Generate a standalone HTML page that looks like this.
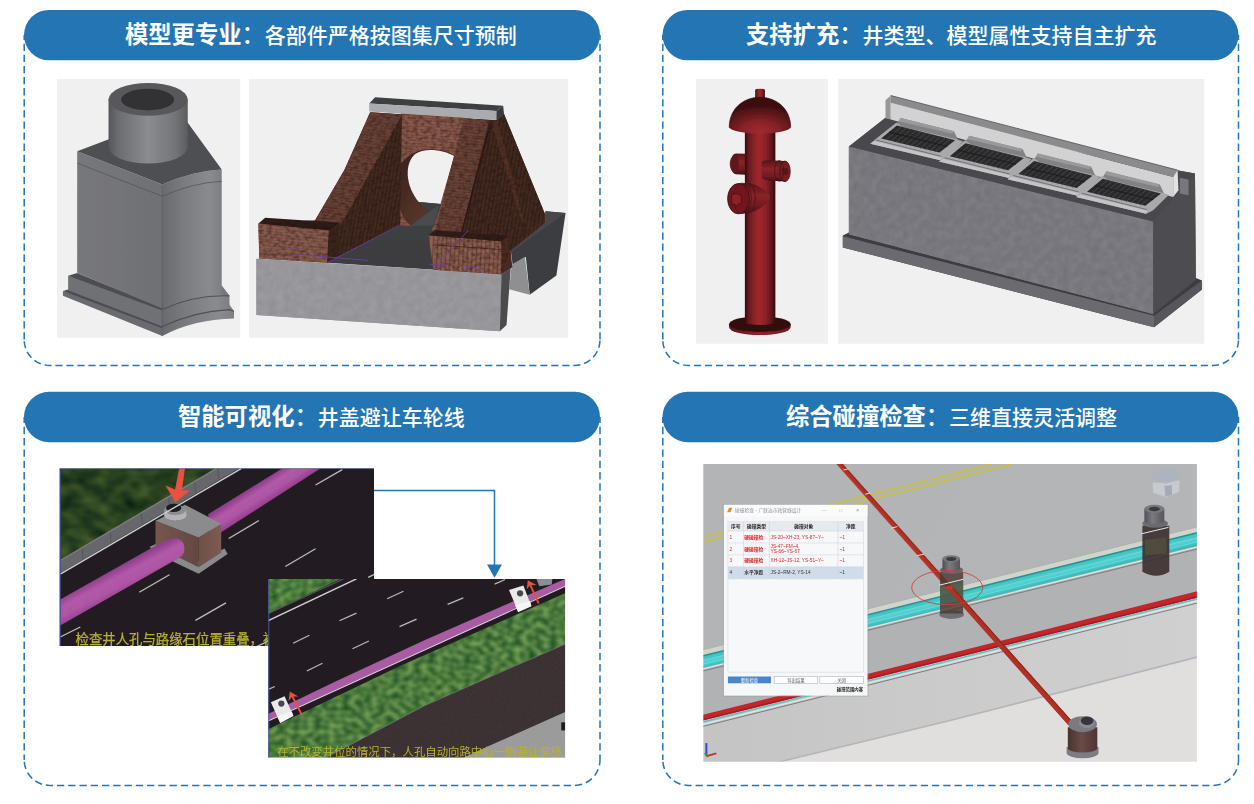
<!DOCTYPE html>
<html lang="zh-CN">
<head>
<meta charset="utf-8">
<title>模型更专业 · 支持扩充 · 智能可视化 · 综合碰撞检查</title>
<style>
html,body{margin:0;padding:0;background:#fff;}
body{width:1254px;height:804px;position:relative;overflow:hidden;font-family:"Liberation Sans","Noto Sans CJK SC",sans-serif;}
#gfx{position:absolute;left:0;top:0;width:1254px;height:804px;display:block;}
.hd{position:absolute;height:50px;line-height:50px;color:#fff;white-space:nowrap;font-size:21px;font-weight:500;text-align:left;}
.hd b{font-size:23.3px;font-weight:bold;}
.hd i{font-style:normal;font-size:23.3px;font-weight:500;}
</style>
</head>
<body>
<svg id="gfx" width="1254" height="804" viewBox="0 0 1254 804">
<defs>
<linearGradient id="m1c" x1="0" y1="0" x2="1" y2="0">
  <stop offset="0" stop-color="#55565a"/><stop offset="0.12" stop-color="#6b6c70"/><stop offset="0.5" stop-color="#8b8c90"/><stop offset="0.85" stop-color="#737478"/><stop offset="1" stop-color="#5a5b5f"/>
</linearGradient>
<linearGradient id="m1l" x1="0" y1="0" x2="1" y2="0">
  <stop offset="0" stop-color="#77787c"/><stop offset="1" stop-color="#6f7074"/>
</linearGradient>
<linearGradient id="m1r" x1="0" y1="0" x2="1" y2="0">
  <stop offset="0" stop-color="#696a6e"/><stop offset="0.35" stop-color="#7a7b7f"/><stop offset="0.8" stop-color="#8a8b8f"/><stop offset="1" stop-color="#7d7e82"/>
</linearGradient>
<filter id="soft" x="-5%" y="-5%" width="110%" height="110%"><feGaussianBlur stdDeviation="0.55"/></filter>
<filter id="soft2" x="-5%" y="-5%" width="110%" height="110%"><feGaussianBlur stdDeviation="0.75"/></filter>
<clipPath id="c1"><rect x="57" y="79" width="183.2" height="258.8"/></clipPath>
<clipPath id="c2"><rect x="249" y="79" width="319.2" height="258.8"/></clipPath>
<pattern id="brk" width="60" height="17" patternUnits="userSpaceOnUse" patternTransform="rotate(3)">
  <rect width="60" height="17" fill="#8a5a4c"/><rect y="13" width="60" height="4" fill="#774a3e"/><rect x="20" y="0" width="4" height="13" fill="#7d4f42"/>
</pattern>
<pattern id="brkL" width="60" height="17" patternUnits="userSpaceOnUse" patternTransform="rotate(5)">
  <rect width="60" height="17" fill="#8a5d4f"/><rect y="13" width="60" height="4" fill="#774c40"/><rect x="30" y="0" width="4" height="13" fill="#7e5245"/>
</pattern>
<pattern id="brkV" width="26" height="60" patternUnits="userSpaceOnUse" patternTransform="rotate(3)">
  <rect width="26" height="60" fill="#87594b"/><rect x="0" width="6" height="60" fill="#6e4437"/><rect x="13" width="5" height="60" fill="#966757"/>
</pattern>
<pattern id="brkD" width="22" height="60" patternUnits="userSpaceOnUse" patternTransform="rotate(10)">
  <rect width="22" height="60" fill="#40281f"/><rect x="0" width="6" height="60" fill="#372018"/><rect x="12" width="4" height="60" fill="#472d24"/>
</pattern>
<pattern id="brkS" width="60" height="17" patternUnits="userSpaceOnUse" patternTransform="rotate(8)">
  <rect width="60" height="17" fill="#6b4337"/><rect y="13" width="60" height="4" fill="#59362c"/><rect x="10" y="0" width="4" height="13" fill="#5f3a30"/>
</pattern>
<pattern id="brkA" width="60" height="17" patternUnits="userSpaceOnUse" patternTransform="rotate(6)">
  <rect width="60" height="17" fill="#6c4438"/><rect y="13" width="60" height="4" fill="#5a372d"/><rect x="40" y="0" width="4" height="13" fill="#613c31"/>
</pattern>
<filter id="brn" x="0" y="0" width="100%" height="100%" color-interpolation-filters="sRGB">
  <feTurbulence type="fractalNoise" baseFrequency="0.22 0.3" numOctaves="2" seed="5"/>
  <feColorMatrix type="matrix" values="0 0 0 0 0.13  0 0 0 0 0.07  0 0 0 0 0.05  1.0 0 0 0 -0.36"/>
</filter>
<filter id="cnc" x="0" y="0" width="100%" height="100%" color-interpolation-filters="sRGB">
  <feTurbulence type="fractalNoise" baseFrequency="0.13" numOctaves="2" seed="9"/>
  <feColorMatrix type="matrix" values="0.075 0 0 0 0.436  0.075 0 0 0 0.433  0.075 0 0 0 0.46  0 0 0 0 1"/>
</filter>
<filter id="cnc2" x="0" y="0" width="100%" height="100%" color-interpolation-filters="sRGB">
  <feTurbulence type="fractalNoise" baseFrequency="0.13" numOctaves="2" seed="4"/>
  <feColorMatrix type="matrix" values="0.07 0 0 0 0.553  0.07 0 0 0 0.553  0.07 0 0 0 0.573  0 0 0 0 1"/>
</filter>
<clipPath id="k4"><path d="M848.9 146.4 L1153.2 221.5 L1153.2 313.9 L848.9 234.2 Z"/></clipPath>
<clipPath id="k2c"><path d="M256.4 258.8 L501.5 274.2 L499.8 331.3 L256.4 315 Z"/></clipPath>
<clipPath id="k2"><path d="M370.1 112.3 L496.4 120 L504 113.9 L545.5 215.2 L510.7 250.4 L501.5 274.2 L433.5 269.7 L435.2 230.3 L463.7 118.3 L402 114.4 L400.3 225.2 L327.2 262.7 L259.3 258.5 L258.4 223.5 L315.2 220.2 L344.4 170 Z"/></clipPath>
<clipPath id="k2b"><path d="M401 112.7 L465 117 L436.4 231 L399.4 226 Z"/></clipPath>
<linearGradient id="h2p" x1="0" y1="0" x2="1" y2="1">
  <stop offset="0" stop-color="#35211a"/><stop offset="0.6" stop-color="#553429"/><stop offset="1" stop-color="#5e3a2e"/>
</linearGradient>
<linearGradient id="h2c" x1="0" y1="0" x2="1" y2="0">
  <stop offset="0" stop-color="#9a9a9f"/><stop offset="0.5" stop-color="#96969b"/><stop offset="1" stop-color="#8f8f94"/>
</linearGradient>
<clipPath id="c3"><rect x="696" y="79" width="132" height="264.8"/></clipPath>
<linearGradient id="hy1" x1="0" y1="0" x2="1" y2="0">
  <stop offset="0" stop-color="#380b0e"/><stop offset="0.14" stop-color="#6c1b1f"/><stop offset="0.45" stop-color="#a0282e"/><stop offset="0.7" stop-color="#872126"/><stop offset="0.9" stop-color="#541418"/><stop offset="1" stop-color="#33090c"/>
</linearGradient>
<radialGradient id="hy2" cx="0.5" cy="0.95" r="0.75" fx="0.5" fy="0.95">
  <stop offset="0" stop-color="#a4292f"/><stop offset="0.4" stop-color="#862227"/><stop offset="0.75" stop-color="#5a1619"/><stop offset="1" stop-color="#3a0d10"/>
</radialGradient>
<linearGradient id="hy3" x1="0" y1="0" x2="0" y2="1">
  <stop offset="0" stop-color="#541518"/><stop offset="0.4" stop-color="#8a2328"/><stop offset="0.75" stop-color="#6e1c20"/><stop offset="1" stop-color="#3f0f12"/>
</linearGradient>
<linearGradient id="hy4" x1="0" y1="0" x2="1" y2="0">
  <stop offset="0" stop-color="#5a1619"/><stop offset="0.5" stop-color="#8e2429"/><stop offset="1" stop-color="#6a1a1e"/>
</linearGradient>
<clipPath id="c4"><rect x="838" y="79" width="366.3" height="264.7"/></clipPath>
<linearGradient id="d4f" x1="0" y1="0" x2="1" y2="0.3">
  <stop offset="0" stop-color="#77767d"/><stop offset="0.5" stop-color="#7c7b82"/><stop offset="1" stop-color="#78777e"/>
</linearGradient>
<g id="grate">
  <path d="M85 -75 L112 -118 L418 -42 L442 8 L425 12 Z" fill="#828284"/>
  <path d="M85 -75 L112 -118 L418 -42 L408 -28 L100 -100 Z" fill="#9a9a9c"/>
  <path d="M-62 30 L-28 0 L88 -92 L120 -70 L438 6 L470 16 L380 106 L340 125 Z" fill="#a9a9ab"/>
  <path d="M-62 30 L340 125 L348 108 L-40 14 Z" fill="#c4c4c6"/>
  <path d="M-30 8 L345 102" stroke="#6a6a6c" stroke-width="5" fill="none"/>
  <path d="M0 0 L90 -75 L425 10 L335 80 Z" fill="#2b2a2c"/>
  <path d="M28 7 L118 -68 M56 14 L146 -61 M84 21 L174 -54 M112 28 L202 -47 M140 35 L230 -40 M168 42 L258 -33 M196 49 L286 -26 M224 56 L314 -19 M252 63 L342 -12 M280 70 L370 -5 M308 77 L398 2" stroke="#4a494b" stroke-width="5" fill="none"/>
  <path d="M45 -37 L380 45" stroke="#1e1d1f" stroke-width="6" fill="none"/>
</g>
<clipPath id="c5"><rect x="59.8" y="468.6" width="314.2" height="177.4"/></clipPath>
<clipPath id="c6"><rect x="268.3" y="578.9" width="296.8" height="178.7"/></clipPath>
<filter id="grassA" x="0" y="0" width="100%" height="100%" color-interpolation-filters="sRGB">
  <feTurbulence type="fractalNoise" baseFrequency="0.05 0.07" numOctaves="2" seed="7"/>
  <feColorMatrix type="matrix" values="0.34 0 0 0 -0.005  0.34 0 0 0 0.09  0.14 0 0 0 0.055  0 0 0 0 1"/>
</filter>
<filter id="grassB" x="0" y="0" width="100%" height="100%" color-interpolation-filters="sRGB">
  <feTurbulence type="fractalNoise" baseFrequency="0.14 0.17" numOctaves="1" seed="3"/>
  <feColorMatrix type="matrix" values="0.5 0 0 0 0.05  0.46 0 0 0 0.25  0.3 0 0 0 0.09  0 0 0 0 1"/>
</filter>
<filter id="grain" x="0" y="0" width="100%" height="100%" color-interpolation-filters="sRGB">
  <feTurbulence type="fractalNoise" baseFrequency="0.5" numOctaves="2" seed="11"/>
  <feColorMatrix type="matrix" values="0 0 0 0 0.5  0 0 0 0 0.5  0 0 0 0 0.5  0.5 0 0 0 -0.13"/>
</filter>
<linearGradient id="pp5" gradientUnits="userSpaceOnUse" x1="400" y1="780" x2="500" y2="970">
  <stop offset="0" stop-color="#8f3f8c"/><stop offset="0.3" stop-color="#b259a8"/><stop offset="0.6" stop-color="#ae55a4"/><stop offset="1" stop-color="#8a3a88"/>
</linearGradient>
<linearGradient id="pp5b" gradientUnits="userSpaceOnUse" x1="1500" y1="130" x2="1590" y2="270">
  <stop offset="0" stop-color="#8f3f8c"/><stop offset="0.3" stop-color="#b259a8"/><stop offset="0.6" stop-color="#ae55a4"/><stop offset="1" stop-color="#8a3a88"/>
</linearGradient>
<linearGradient id="bx5l" x1="0" y1="0" x2="1" y2="0">
  <stop offset="0" stop-color="#75564d"/><stop offset="1" stop-color="#644840"/>
</linearGradient>
<linearGradient id="bx5r" x1="0" y1="0" x2="1" y2="0">
  <stop offset="0" stop-color="#6e5047"/><stop offset="1" stop-color="#7d5c52"/>
</linearGradient>
<clipPath id="g5p"><path d="M59 468 L216.4 468.6 L59 561.2 Z"/></clipPath>
<clipPath id="g6a"><path d="M267.0 577.6 L343.4 577.6 L267.0 614.2 Z"/></clipPath>
<clipPath id="g6b"><path d="M267.0 729.7 L402.1 665.0 L566.7 592.5 L566.7 643.4 L482.9 680.0 L425.0 705.5 L326.4 757.5 L326.4 759.2 L267.0 759.2 Z"/></clipPath>
<clipPath id="g6c"><path d="M326.4 757.9 L425.0 705.5 L482.9 680.0 L566.7 643.4 L566.7 711.2 L482.9 748.6 L463.5 757.9 Z"/></clipPath>
<clipPath id="c7"><rect x="703.3" y="464" width="493.6" height="297.8"/></clipPath>
<linearGradient id="s7a" x1="0" y1="0" x2="1" y2="0.4">
  <stop offset="0" stop-color="#b3b4b5"/><stop offset="1" stop-color="#b4b5b6"/>
</linearGradient>
<linearGradient id="s7b" x1="0" y1="0" x2="1" y2="0">
  <stop offset="0" stop-color="#c4c4c5"/><stop offset="0.5" stop-color="#cbcbcc"/><stop offset="1" stop-color="#d0d0d1"/>
</linearGradient>
<linearGradient id="cy7" gradientUnits="userSpaceOnUse" x1="1250" y1="670" x2="1268" y2="742">
  <stop offset="0" stop-color="#2f9fa0"/><stop offset="0.15" stop-color="#3cc4c4"/><stop offset="0.5" stop-color="#56d0d0"/><stop offset="0.8" stop-color="#3ec0c2"/><stop offset="1" stop-color="#35a8aa"/>
</linearGradient>
<linearGradient id="mh7" x1="0" y1="0" x2="1" y2="0">
  <stop offset="0" stop-color="#4e4e54"/><stop offset="0.4" stop-color="#7a7a80"/><stop offset="1" stop-color="#55555b"/>
</linearGradient>
<linearGradient id="mb7" x1="0" y1="0" x2="1" y2="0">
  <stop offset="0" stop-color="#4a3230"/><stop offset="0.45" stop-color="#6a4a46"/><stop offset="1" stop-color="#4e3533"/>
</linearGradient>

</defs>
<!-- ===== panel frames ===== -->
<g id="frames" fill="none" stroke="#2375b3" stroke-width="1.5">
  <path d="M24.2 35.0 V339.9 M600.0 35.0 V339.9" stroke-dasharray="7.30 3.80" stroke-dashoffset="2.40"/>
  <path d="M24.2 339.9 A25.5 25.5 0 0 0 49.7 365.4 H574.5 A25.5 25.5 0 0 0 600.0 339.9" stroke-dasharray="7.20 3.82" stroke-dashoffset="9.64"/>
  <path d="M662.8 35.0 V339.9 M1238.5 35.0 V339.9" stroke-dasharray="7.30 3.80" stroke-dashoffset="2.40"/>
  <path d="M662.8 339.9 A25.5 25.5 0 0 0 688.3 365.4 H1213.0 A25.5 25.5 0 0 0 1238.5 339.9" stroke-dasharray="7.20 3.82" stroke-dashoffset="9.64"/>
  <path d="M24.2 417.0 V759.9 M600.0 417.0 V759.9" stroke-dasharray="7.40 3.90" stroke-dashoffset="1.50"/>
  <path d="M24.2 759.9 A25.5 25.5 0 0 0 49.7 785.4 H574.5 A25.5 25.5 0 0 0 600.0 759.9" stroke-dasharray="7.30 3.96" stroke-dashoffset="9.24"/>
  <path d="M662.8 417.0 V759.9 M1238.5 417.0 V759.9" stroke-dasharray="7.40 3.90" stroke-dashoffset="1.50"/>
  <path d="M662.8 759.9 A25.5 25.5 0 0 0 688.3 785.4 H1213.0 A25.5 25.5 0 0 0 1238.5 759.9" stroke-dasharray="7.30 3.96" stroke-dashoffset="9.24"/>
</g>
<g id="pills" fill="#2375b3">
  <rect x="24" y="9.9" width="576" height="50.4" rx="25.2"/>
  <rect x="662.5" y="9.9" width="576" height="50.4" rx="25.2"/>
  <rect x="24" y="391.8" width="576" height="50.4" rx="25.2"/>
  <rect x="662.5" y="391.8" width="576" height="50.4" rx="25.2"/>
</g>
<!-- ===== image 1 : manhole chamber ===== -->
<g id="img1" clip-path="url(#c1)"><g filter="url(#soft)">
  <rect x="47" y="69" width="203.2" height="278.8" fill="#f0f0f0"/>
  <g transform="translate(50,75) scale(0.16168)">
    <!-- lower slab -->
    <path d="M80 1336 L695 1500 L695 1614 L80 1366 Z" fill="#6a6b6f"/>
    <path d="M695 1500 L1110 1420 L1138 1461 L1138 1506 Q885 1512 695 1614 Z" fill="url(#m1r)"/>
    <path d="M80 1336 L112 1326 L695 1552 L695 1566 Z" fill="#4c4d50"/>
    <!-- upper plinth -->
    <path d="M112 1241 L695 1400 L695 1556 L112 1331 Z" fill="#707175"/>
    <path d="M695 1400 L1062 1300 L1110 1366 L1110 1451 Q890 1462 695 1556 Z" fill="url(#m1r)"/>
    <path d="M112 1241 L168 1224 L695 1440 L695 1456 Z" fill="#4d4e51"/>
    <path d="M695 1556 Q890 1462 1110 1451 L1138 1461" fill="none" stroke="#4f5053" stroke-width="7"/>
    <!-- body -->
    <path d="M168 472 L695 678 L695 1444 L168 1224 Z" fill="url(#m1l)"/>
    <path d="M695 678 Q880 595 1062 585 L1062 1356 Q890 1360 695 1450 Z" fill="url(#m1r)"/>
    <path d="M1062 1306 L1110 1366 L1062 1358 Z" fill="#77787c"/>
    <path d="M695 1450 Q897 1358 1110 1366" fill="none" stroke="#505154" stroke-width="7"/>
    <path d="M168 545 L695 750 Q880 667 1062 657" fill="none" stroke="#55565a" stroke-width="5"/>
    <path d="M695 678 L695 1614" fill="none" stroke="#55565a" stroke-width="5"/>
    <!-- top face -->
    <path d="M168 472 L805 230 L1062 585 Q880 595 695 678 Z" fill="#4e4f52"/>
    <!-- riser -->
    <path d="M362 151 L362 446 A245 101 0 0 0 852 446 L852 151 Z" fill="url(#m1c)"/>
    <ellipse cx="607" cy="151" rx="245" ry="101" fill="#58595c"/>
    <ellipse cx="604" cy="152" rx="164" ry="67" fill="#323335"/>
  </g>
</g></g>

<!-- ===== image 2 : brick culvert headwall ===== -->
<g id="img2" clip-path="url(#c2)"><g filter="url(#soft)">
  <rect x="239" y="69" width="339.2" height="278.8" fill="#f0f0f0"/>
  <g transform="translate(245,75) scale(0.167853)">
    <!-- right side base -->
    <g transform="translate(1459.6,685.1) scale(0.8154)">
      <path d="M150 425 L405 240 L405 155 L552 168 L485 625 L290 765 L262 490 L165 545 Z" fill="#3b3d3f"/>
      <path d="M150 425 L405 240 L405 155 L552 168 L520 190 L150 458 Z" fill="#454749"/>
      <path d="M158 548 L255 488 L290 765 L140 725 Z" fill="#8f8f91"/>
    </g>
    <!-- floor -->
    <path d="M490 1118 L920 895 L960 840 L1300 840 L1130 1160 Z" fill="#3c3e40"/>
    <!-- base front -->
    <path d="M68 1095 L1528 1187 L1518 1527 L68 1430 Z" fill="url(#h2c)"/>
  </g>
  <rect x="252" y="255" width="254" height="80" filter="url(#cnc2)" clip-path="url(#k2c)"/>
  <g transform="translate(245,75) scale(0.167853)">
    <path d="M1528 1187 L1583 1150 L1558 1490 L1518 1527 Z" fill="#494b4d"/>
    <!-- backing to avoid seams -->
    <path d="M745 222 L1498 268 L1543 232 L1790 835 L1583 1045 L1528 1187 L1123 1160 L1133 925 L1303 258 L935 235 L925 895 L490 1118 L85 1093 L80 885 L418 865 L592 566 Z" fill="#4a2e25"/>
    <!-- back wall -->
    <path d="M930 225 L1310 250 L1140 930 L920 900 Z" fill="url(#brk)"/>
  </g>
  <rect x="395" y="108" width="75" height="130" filter="url(#brn)" clip-path="url(#k2b)"/>
  <g transform="translate(245,75) scale(0.167853)">
    <!-- hole region drawn in its own crop space -->
    <g transform="translate(744.7,327.7) scale(0.8151)">
      <path d="M215 262 C260 190 340 140 440 140 C520 140 580 160 625 185 L515 545 L430 600 L300 700 C250 660 215 600 215 520 Z" fill="url(#h2p)"/>
      <path d="M330 175 C360 155 400 146 440 146 C510 146 570 165 615 190 L515 540 L357 527 C310 470 280 400 276 330 C272 260 295 205 330 175 Z" fill="#f0f0f0"/>
      <path d="M357 527 L520 540 L470 690 L430 770 L430 810 L0 810 L0 790 L210 700 L300 700 L430 600 Z" fill="#3c3f41"/>
      <path d="M300 700 L430 600 L505 548 L470 690 L440 700 Z" fill="#484b4d"/>
    </g>
    <!-- left wing -->
    <path d="M935 235 L925 895 L490 1118 L500 925 L578 880 Z" fill="url(#brkD)"/>
    <path d="M749 222 L935 235 L578 880 L418 865 L592 566 Z" fill="url(#brkS)"/>
    <!-- left low wall -->
    <path d="M80 885 L500 925 L490 1118 L85 1093 Z" fill="url(#brkL)"/>
    <path d="M80 885 L120 850 L560 880 L500 925 Z" fill="#2c1b16"/>
    <path d="M500 925 L560 880 L560 1085 L490 1118 Z" fill="#3a241d"/>
    <!-- right wing -->
    <path d="M1303 258 L1455 268 L1291 935 L1133 925 Z" fill="url(#brkA)"/>
    <path d="M1461 270 L1498 268 L1543 232 L1790 835 L1790 880 L1583 1045 L1573 957 L1291 935 L1455 268 Z" fill="url(#brkD)"/>
    <path d="M1486 272 L1504 272 L1662 870 L1650 880 L1478 318 Z" fill="#553328" opacity="0.8"/>
    <path d="M1463 290 L1291 935" stroke="#2a1915" stroke-width="8" fill="none"/>
    <!-- right low wall -->
    <path d="M1093 955 L1528 990 L1528 1187 L1123 1160 Z" fill="url(#brkV)"/>
    <path d="M1093 955 L1133 925 L1573 957 L1528 990 Z" fill="#2e1c17"/>
    <path d="M1528 990 L1573 957 L1593 1145 L1528 1187 Z" fill="#472a22"/>
    <path d="M1118 1012 L1528 1040" stroke="#4a2c23" stroke-width="5" fill="none"/>
  </g>
  <rect x="255" y="108" width="295" height="170" filter="url(#brn)" clip-path="url(#k2)"/>
  <g transform="translate(245,75) scale(0.167853)">
    <!-- cap -->
    <path d="M740 170 L775 132 L1538 183 L1498 215 Z" fill="#3e4043"/>
    <path d="M740 170 L1498 215 L1498 268 L740 218 Z" fill="#a9abaf"/>
    <path d="M1498 215 L1538 183 L1543 232 L1498 268 Z" fill="#393b3d"/>
    <!-- purple guide lines -->
    <path d="M490 1118 L920 895 M290 1067 L735 1105 M1123 1160 L1330 925 M1100 1128 L1410 1142" stroke="#6a3fa0" stroke-width="5" fill="none"/>
  </g>
</g></g>

<!-- ===== image 3 : fire hydrant ===== -->
<g id="img3" clip-path="url(#c3)"><g filter="url(#soft)">
  <rect x="686" y="69" width="152" height="284.8" fill="#f0f0f0"/>
  <g transform="translate(690,75) scale(0.174216)">
    <!-- base flange -->
    <path d="M224 1430 L224 1447 A177 46 0 0 0 578 1447 L578 1430 Z" fill="url(#hy4)"/>
    <ellipse cx="401" cy="1430" rx="177" ry="45" fill="#300b0d"/>
    <!-- left small outlet -->
    <path d="M320 452 L262 450 Q228 470 228 510 Q228 552 262 570 L320 572 Z" fill="url(#hy3)"/>
    <ellipse cx="258" cy="510" rx="22" ry="58" fill="#5e171b"/>
    <!-- stem -->
    <path d="M315 318 L315 1422 A88 14 0 0 0 490 1422 L490 318 Z" fill="url(#hy1)"/>
    <!-- right outlet -->
    <path d="M412 500 Q420 488 450 490 L545 494 L545 612 L450 606 Q420 600 412 590 Z" fill="url(#hy3)"/>
    <ellipse cx="545" cy="553" rx="30" ry="59" fill="#7a1f24" stroke="#3f0f12" stroke-width="5"/>
    <ellipse cx="512" cy="550" rx="26" ry="60" fill="none" stroke="#4a1216" stroke-width="4"/>
    <path d="M528 540 L556 536 L560 566 L534 572 Z" fill="#5a1619" stroke="#3a0d10" stroke-width="3"/>
    <!-- front outlet -->
    <path d="M468 700 Q420 640 340 622 L280 622 L280 795 L340 792 Q420 770 468 700 Z" fill="url(#hy3)"/>
    <ellipse cx="335" cy="707" rx="40" ry="86" fill="none" stroke="#4a1216" stroke-width="5"/>
    <ellipse cx="278" cy="710" rx="62" ry="87" fill="#70191e" stroke="#3f0f12" stroke-width="5"/>
    <ellipse cx="300" cy="708" rx="52" ry="88" fill="none" stroke="#4a1216" stroke-width="4"/>
    <path d="M238 690 L262 680 L292 688 L296 732 L268 750 L240 738 Z" fill="#8a2328" stroke="#3a0d10" stroke-width="4"/>
    <path d="M462 680 L462 716" stroke="#4a1216" stroke-width="5"/>
    <!-- nub -->
    <path d="M374 86 A28 7 0 0 1 430 86 L430 140 L374 140 Z" fill="url(#hy1)"/>
    <!-- dome -->
    <path d="M225 300 C225 200 300 128 401 128 C502 128 578 200 578 300 A177 40 0 0 1 225 300 Z" fill="url(#hy2)"/>
    <path d="M225 300 C225 200 300 128 401 128 C502 128 578 200 578 300" fill="none" stroke="#3a0d10" stroke-width="5" opacity="0.7"/>
  </g>
</g></g>

<!-- ===== image 4 : multi-grate gully ===== -->
<g id="img4" clip-path="url(#c4)"><g filter="url(#soft)">
  <rect x="828" y="69" width="386.3" height="284.7" fill="#f0f0f0"/>
  <g transform="translate(835,75) scale(0.174155)">
    <!-- plinth -->
    <path d="M45 922 L80 905 L1832 1365 L2072 1165 L2107 1180 L2107 1232 L1832 1449 L45 990 Z" fill="#3d3d41"/>
    <path d="M45 926 L1832 1383 L1832 1449 L45 990 Z" fill="#6b6b6f"/>
    <path d="M1832 1383 L2107 1180 L2107 1232 L1832 1449 Z" fill="#57575b"/>
    <!-- box body -->
    <path d="M80 410 L290 245 L2067 566 L2072 1176 L1827 1372 L80 914 Z" fill="#4d4d51"/>
    <path d="M80 410 L1827 841 L1827 1372 L80 914 Z" fill="url(#d4f)"/>
  </g>
  <rect x="845" y="142" width="312" height="176" filter="url(#cnc)" clip-path="url(#k4)"/>
  <g transform="translate(835,75) scale(0.174155)">
    <path d="M1827 841 L2067 566 L2072 1176 L1827 1372 Z" fill="#4d4d51"/>
    <!-- top face -->
    <path d="M80 410 L290 245 L2067 566 L1827 841 Z" fill="#4a4a4e"/>
    <path d="M1980 590 L2030 600 L2030 690 L1980 680 Z" fill="#77777b"/>
    <!-- curb -->
    <path d="M290 145 L320 118 L320 255 L290 248 Z" fill="#98989a"/>
    <path d="M320 160 L1942 586 L1942 700 L320 255 Z" fill="#d2d2d3"/>
    <path d="M320 118 L1967 546 L1942 586 L320 160 Z" fill="#8b8b8d"/>
    <path d="M1942 586 L1967 546 L1972 662 L1942 700 Z" fill="#e2e2e3"/>
    <path d="M320 118 L1967 546" stroke="#5a5a5c" stroke-width="5" fill="none"/>
    <!-- grates -->
    <use href="#grate" x="265" y="365"/>
    <use href="#grate" x="659" y="467"/>
    <use href="#grate" x="1053" y="569"/>
    <use href="#grate" x="1447" y="671"/>
  </g>
</g></g>

<!-- ===== image 5 : road view before ===== -->
<g id="img5" clip-path="url(#c5)"><g filter="url(#soft2)">
  <rect x="50" y="459" width="334" height="197" fill="#221f22"/>
  <rect x="59" y="468" width="160" height="100" filter="url(#grassA)" clip-path="url(#g5p)"/>
  <g transform="translate(55,465) scale(0.136761)">
    <!-- kerb stones -->
    <path d="M35 700 L1180 26 L1345 26 L35 792 Z" fill="#66666c"/>
    <path d="M35 700 L1180 26" stroke="#7e7e82" stroke-width="10" fill="none"/>
    <path d="M200 610 L205 695 M405 490 L410 575 M630 355 L640 440 M830 240 L840 325 M1020 125 L1030 212 M1190 30 L1200 110" stroke="#55555a" stroke-width="7" fill="none"/>
    <!-- lane dashes -->
    <path d="M1270 538 L1491 406 M1905 146 L2100 34 M1684 742 L1905 612 M616 930 L837 802 M1027 1136 L1250 1008 M38 1258 L185 1185 M2290 822 L2335 800 M1470 1330 L1560 1288" stroke="#bdbdbf" stroke-width="9" fill="none"/>
    <!-- pipe (far) -->
    <path d="M1120 360 L1660 26 L1940 26 L1215 492 L1140 520 Z" fill="url(#pp5b)"/>
    <!-- box base slab -->
    <path d="M690 600 L740 575 L1050 700 L1240 610 L1262 650 L1050 795 L870 710 Z" fill="#8a8a8c"/>
    <!-- box -->
    <path d="M735 408 L1050 530 L1050 747 L735 592 Z" fill="url(#bx5l)"/>
    <path d="M1050 530 L1215 430 L1215 642 L1050 747 Z" fill="url(#bx5r)"/>
    <path d="M735 408 L770 392 L950 290 L1215 430 L1050 530 Z" fill="#8b8b8d"/>
    <!-- riser -->
    <ellipse cx="880" cy="368" rx="80" ry="36" fill="#c9c9cb"/>
    <path d="M800 330 L800 368 A80 36 0 0 0 960 368 L960 330 Z" fill="#b4b4b6"/>
    <ellipse cx="878" cy="328" rx="80" ry="38" fill="#8e8e90"/>
    <ellipse cx="868" cy="314" rx="56" ry="30" fill="#1f1d20"/>
    <path d="M35 800 L1361 26" stroke="#d0d0d4" stroke-width="10" fill="none"/>
    <!-- pipe (near) -->
    <path d="M35 985 L790 560 Q900 505 940 575 Q965 650 905 680 L35 1175 Z" fill="url(#pp5)"/>
    <!-- red arrow -->
    <path d="M908 26 L950 26 L928 185 L988 186 L880 272 L808 150 L878 180 Z" fill="#e9513f"/>
  </g>
  <text x="75.5" y="644.3" font-size="13.4" fill="#b9b22f" stroke="#b9b22f" stroke-width="0.25" font-family="'Liberation Sans','Noto Sans CJK SC',sans-serif">检查井人孔与路缘石位置重叠，被</text>
</g></g>
<path d="M60.2 646 V468.6" fill="none" stroke="#3d4d8f" stroke-width="1.1"/>
<path d="M59.7 468.6 H374" fill="none" stroke="#3d4d8f" stroke-width="0.9" opacity="0.55"/>
<!-- connector arrow -->
<path d="M374 490.5 H494.5 V566" fill="none" stroke="#2375b3" stroke-width="1.5"/>
<path d="M487 564.6 H502 L494.5 577.8 Z" fill="#2375b3"/>

<!-- ===== image 6 : road view after ===== -->
<g id="img6" clip-path="url(#c6)"><g filter="url(#soft2)">
  <rect x="258" y="569" width="317" height="199" fill="#221f22"/>
  <rect x="266" y="577" width="80" height="40" filter="url(#grassB)" clip-path="url(#g6a)"/>
  <rect x="266" y="590" width="302" height="170" filter="url(#grassB)" clip-path="url(#g6b)"/>
  <g transform="translate(265,575) scale(0.130617)">
    <!-- upper verge edge and line -->
    <path d="M25 295 L600 30" stroke="#55595a" stroke-width="8" fill="none"/>
    <path d="M25 350 L700 30" stroke="#d2d2d4" stroke-width="11" fill="none"/>
    <path d="M40 160 L310 32" stroke="#2f9a4a" stroke-width="4" fill="none"/>
    <!-- lane dashes -->
    <path d="M215 522 L340 462 M570 350 L700 292 M935 182 L1060 125 M670 565 L795 505 M1030 395 L1160 338 M320 735 L440 675 M1398 225 L1518 175 M1758 70 L1838 35 M1148 345 L1160 340 M30 874 L75 854" stroke="#b9b9bb" stroke-width="9" fill="none"/>
    <!-- purple band -->
    <path d="M15 1068 L560 806 L1225 497 L2310 24 L2310 76 L1225 569 L720 798 L15 1118 Z" fill="#a95ca3"/>
    <path d="M15 1122 L720 802 L1225 573 L2310 80" stroke="#e2d6e2" stroke-width="8" fill="none"/>
    <!-- soil band -->
    <path d="M470 1400 L1225 999 L1668 804 L2310 524 L2310 1043 L1668 1329 L1520 1400 Z" fill="#3a2f31"/>
    <path d="M470 1397 L1225 999 L1668 804 L2310 524" stroke="#8a8e96" stroke-width="6" fill="none" opacity="0.7"/>
    <!-- concrete corner -->
    <path d="M1520 1400 L1668 1329 L2310 1043 L2310 1400 Z" fill="#9b9b9b"/>
    <path d="M2268 1128 L2310 1128 L2310 1190 L2268 1190 Z" fill="#1c1a1c"/>
    <!-- grey object top right -->
    <path d="M2078 30 L2200 30 L2195 72 L2100 86 Z" fill="#8b8c98"/>
    <!-- manhole covers -->
    <path d="M1868 115 L1978 80 L2038 235 L1938 280 Z" fill="#e9e9ea"/>
    <path d="M1915 232 L2030 200 L2040 240 L1938 285 Z" fill="#f6f6f6"/>
    <circle cx="1953" cy="140" r="24" fill="#4a4a4e"/>
    <path d="M45 974 L150 929 L215 1074 L115 1129 Z" fill="#e9e9ea"/>
    <path d="M95 1085 L205 1045 L218 1080 L118 1133 Z" fill="#f6f6f6"/>
    <circle cx="125" cy="984" r="24" fill="#4a4a4e"/>
    <!-- red arrows -->
    <path d="M2095 218 L2028 70" stroke="#e8503f" stroke-width="14" fill="none"/>
    <path d="M2012 40 L2078 76 L2030 78 L2004 110 Z" fill="#e8503f"/>
    <path d="M282 1072 L205 920" stroke="#e8503f" stroke-width="14" fill="none"/>
    <path d="M190 892 L255 930 L208 930 L180 965 Z" fill="#e8503f"/>
  </g>
  <rect x="326" y="640" width="242" height="120" filter="url(#grain)" clip-path="url(#g6c)" opacity="0.25"/>
  <text x="277.2" y="755.6" font-size="11.4" fill="#b9b22f" font-family="'Liberation Sans','Noto Sans CJK SC',sans-serif">在不改变井位的情况下，人孔自动向路中心一侧避让偏移</text>
</g></g>
<path d="M268.8 757.6 V579.4" fill="none" stroke="#3f5a9a" stroke-width="1"/>

<!-- ===== image 7 : clash detection 3D view ===== -->
<g id="img7" clip-path="url(#c7)"><g filter="url(#soft)">
  <rect x="693" y="454" width="514" height="318" fill="url(#s7a)"/>
  <g transform="translate(700,460) scale(0.199362)">
    <!-- lowest ground -->
    <path d="M0 1330 L2520 960 L2520 1540 L0 1540 Z" fill="#e0dfdd"/>
    <!-- light band under red pipe -->
    <path d="M0 1290 L1254 985 L2520 670 L2520 982 L1254 1307 L400 1514 L0 1600 Z" fill="url(#s7b)"/>
    <path d="M0 1610 L400 1514 L1254 1307 L2520 982" stroke="#b3b5b8" stroke-width="8" fill="none"/>
    <!-- plane between cyan and red -->
    <path d="M0 1052 L2520 428 L2520 660 L0 1282 Z" fill="#b1b2b4"/>
    <!-- yellow lines -->
    <path d="M0 389 L1464 20 M0 415 L1560 22" stroke="#c8c23c" stroke-width="8" fill="none"/>
    <!-- cyan channel -->
    <path d="M0 956 L2520 329 L2520 360 L0 988 Z" fill="#d0d5cc"/>
    <path d="M0 986 L2520 358 L2520 424 L0 1047 Z" fill="url(#cy7)"/>
    <path d="M0 986 L2520 358" stroke="#2a8f90" stroke-width="7" fill="none"/>
    <path d="M0 1010 L2520 384 M0 1028 L2520 404" stroke="#7adede" stroke-width="5" fill="none" opacity="0.7"/>
    <path d="M0 1052 L2520 430" stroke="#e4e4e4" stroke-width="6" fill="none"/>
    <path d="M0 1062 L2520 440" stroke="#6e6e70" stroke-width="4" fill="none"/>
    <path d="M0 956 L2520 329" stroke="#a4a4a4" stroke-width="3" fill="none"/>
    <!-- red horizontal pipe -->
    <path d="M0 1281 L1254 971 L2520 652 L2520 684 L1254 999 L0 1311 Z" fill="#c3282b"/>
    <path d="M0 1306 L1254 995 L2520 680" stroke="#9c1f22" stroke-width="7" fill="none"/>
    <path d="M0 1318 L1254 1006 L2520 690" stroke="#55c4c6" stroke-width="7" fill="none"/>
    <path d="M0 1330 L1254 1017 L2520 701" stroke="#e6e6e6" stroke-width="6" fill="none"/>
    <path d="M0 1340 L1254 1027 L2520 711" stroke="#6a6a6c" stroke-width="4" fill="none"/>
    <!-- right manhole -->
    <path d="M2219 330 L2354 330 L2354 560 Q2290 600 2219 560 Z" fill="#3d3030" opacity="0.92"/>
    <path d="M2232 400 L2340 390 L2340 470 L2232 478 Z" fill="#55503c" opacity="0.8"/>
    <ellipse cx="2283" cy="318" rx="64" ry="22" fill="#6a6a70"/>
    <path d="M2229 245 L2229 305 A50 16 0 0 0 2329 305 L2329 245 Z" fill="url(#mh7)"/>
    <ellipse cx="2279" cy="245" rx="50" ry="20" fill="#77777d"/>
    <ellipse cx="2279" cy="246" rx="28" ry="11" fill="#3a3a3e"/>
    <path d="M2215 370 L2350 338" stroke="#e8e8e8" stroke-width="5" fill="none"/>
    <!-- red diagonal pipe (behind manhole) -->
    <path d="M684 20 L716 20 L1876 1322 L1846 1328 Z" fill="#b03326"/>
    <path d="M713 20 L1873 1322" stroke="#8a2219" stroke-width="6" fill="none" opacity="0.7"/>
    <path d="M688 20 L1849 1326" stroke="#c4503c" stroke-width="4" fill="none" opacity="0.5"/>
    <path d="M720 50 L745 44 M828 172 L856 165 M958 342 L990 334 M1090 480 L1124 472" stroke="#e8d8d0" stroke-width="5" fill="none"/>
    <!-- middle manhole -->
    <ellipse cx="1262" cy="775" rx="62" ry="22" fill="#6e6e74"/>
    <path d="M1204 560 L1320 560 L1320 770 L1204 770 Z" fill="#4a3a30" opacity="0.82"/>
    <path d="M1204 640 L1320 612 L1320 700 L1204 728 Z" fill="#4f6a5a" opacity="0.55"/>
    <ellipse cx="1262" cy="552" rx="58" ry="20" fill="#66666c"/>
    <path d="M1216 495 L1216 545 A44 14 0 0 0 1304 545 L1304 495 Z" fill="url(#mh7)"/>
    <ellipse cx="1260" cy="495" rx="44" ry="17" fill="#77777d"/>
    <ellipse cx="1260" cy="496" rx="25" ry="10" fill="#3a3a3e"/>
    <path d="M1200 628 L1322 598" stroke="#e8e8e8" stroke-width="5" fill="none"/>
    <!-- red diagonal pipe (in front, below entry) -->
    <path d="M1239 645 L1273 645 L1876 1322 L1846 1328 Z" fill="#b03326"/>
    <path d="M1270 645 L1873 1322" stroke="#8a2219" stroke-width="6" fill="none" opacity="0.7"/>
    <path d="M1222 640 L1262 628 L1268 655 Z" fill="#e02a28"/>
    <!-- red selection ellipse -->
    <ellipse cx="1240" cy="640" rx="178" ry="86" fill="none" stroke="#d63a34" stroke-width="5" opacity="0.85"/>
    <!-- bottom manhole -->
    <path d="M1839 1440 L1839 1470 A80 26 0 0 0 1999 1470 L1999 1440 Z" fill="#7c7c82"/>
    <path d="M1845 1340 L1845 1445 A74 22 0 0 0 1993 1445 L1993 1340 Z" fill="url(#mb7)"/>
    <ellipse cx="1919" cy="1325" rx="72" ry="40" fill="#7a7a80"/>
    <ellipse cx="1940" cy="1318" rx="40" ry="26" fill="#8a8a90"/>
    <ellipse cx="1942" cy="1308" rx="32" ry="21" fill="#35353a"/>
    <!-- view cube -->
    <g opacity="0.6">
      <path d="M2258 100 L2300 40 L2380 34 L2412 96 L2340 112 Z" fill="#a9b4c2"/>
      <path d="M2270 110 L2340 116 L2406 100 L2404 160 L2340 188 L2272 166 Z" fill="#d4d9df" stroke="#b6bec8" stroke-width="4"/>
      <path d="M2330 130 L2366 126 L2368 176 L2334 184 Z" fill="#9aa6b6"/>
    </g>
    <!-- axis triad -->
    <path d="M32 1420 L32 1485" stroke="#2a4fd0" stroke-width="10" fill="none"/>
    <path d="M32 1485 L82 1472" stroke="#d02a2a" stroke-width="9" fill="none"/>
    <path d="M24 1470 L40 1490" stroke="#2aa02a" stroke-width="9" fill="none"/>
    <!-- dialog -->
    <rect x="114" y="220" width="732" height="968" fill="#9a9a9a" opacity="0.35"/>
    <rect x="120" y="225" width="720" height="957" fill="#f6f7f9"/>
    <rect x="120" y="225" width="720" height="58" fill="#fbfbfc"/>
    <path d="M136 262 L146 240 L162 240 L152 262 Z" fill="#e8862a"/>
    <rect x="140" y="308" width="680" height="756" fill="#f7f8fa" stroke="#d5d9de" stroke-width="3"/>
    <rect x="140" y="308" width="680" height="48" fill="#e6e9ee"/>
    <rect x="140" y="536" width="680" height="60" fill="#cfdce9"/>
    <path d="M140 356 H820 M140 416 H820 M140 476 H820 M140 536 H820 M140 596 H820 M218 308 V596 M348 308 V596 M692 308 V596" stroke="#d0d5db" stroke-width="3" fill="none"/>
    <rect x="140" y="1086" width="216" height="34" fill="#4a86c8"/>
    <rect x="372" y="1086" width="218" height="34" fill="#fdfdfd" stroke="#a9b4c2" stroke-width="3"/>
    <rect x="601" y="1086" width="218" height="34" fill="#fdfdfd" stroke="#a9b4c2" stroke-width="3"/>
    <g font-family="'Liberation Sans','Noto Sans CJK SC',sans-serif" font-size="24">
      <text x="176" y="261" fill="#8a8f96">碰撞检查 - 广联达市政管线设计</text>
      <text x="612" y="260" fill="#b0b4ba">—</text>
      <text x="696" y="260" fill="#b0b4ba" font-size="22">☐</text>
      <text x="782" y="262" fill="#8a8f96" font-size="28">×</text>
      <g font-weight="bold" fill="#222" text-anchor="middle">
        <text x="179" y="341">序号</text>
        <text x="283" y="341">碰撞类型</text>
        <text x="520" y="341">碰撞对象</text>
        <text x="756" y="341">净距</text>
      </g>
      <g fill="#e0262a">
        <text x="148" y="394">1</text><text x="222" y="394" font-weight="bold">硬碰撞检</text><text x="354" y="394">JS-20~XH-23, YS-87~Y~</text><text x="700" y="394">~1</text>
        <text x="148" y="454">2</text><text x="222" y="454" font-weight="bold">硬碰撞检</text><text x="354" y="442">JS-47~FM~4,</text><text x="354" y="468">YS-66~YS-67</text><text x="700" y="454">~1</text>
        <text x="148" y="514">3</text><text x="222" y="514" font-weight="bold">硬碰撞检</text><text x="354" y="514">XH-12~JS-12, YS-51~Y~</text><text x="700" y="514">~1</text>
      </g>
      <g fill="#333">
        <text x="148" y="574">4</text><text x="222" y="574" font-weight="bold">水平净距</text><text x="354" y="574">JS-2~RM-2, YS-14</text><text x="700" y="574">~1</text>
      </g>
      <text x="248" y="1112" fill="#fff" text-anchor="middle" font-size="22">重新检查</text>
      <text x="481" y="1112" fill="#555" text-anchor="middle" font-size="22">导出结果</text>
      <text x="710" y="1112" fill="#555" text-anchor="middle" font-size="22">关闭</text>
      <text x="818" y="1160" fill="#222" text-anchor="end" font-weight="bold" font-size="22">碰撞范围内容</text>
    </g>
  </g>
</g></g>

</svg>
<div class="hd" style="left:125px;top:10px;"><b>模型更专业</b><i>：</i>各部件严格按图集尺寸预制</div>
<div class="hd" style="left:746px;top:10px;"><b>支持扩充</b><i>：</i>井类型、模型属性支持自主扩充</div>
<div class="hd" style="left:178px;top:392px;"><b>智能可视化</b><i>：</i>井盖避让车轮线</div>
<div class="hd" style="left:786px;top:392px;"><b>综合碰撞检查</b><i>：</i>三维直接灵活调整</div>
</body>
</html>
